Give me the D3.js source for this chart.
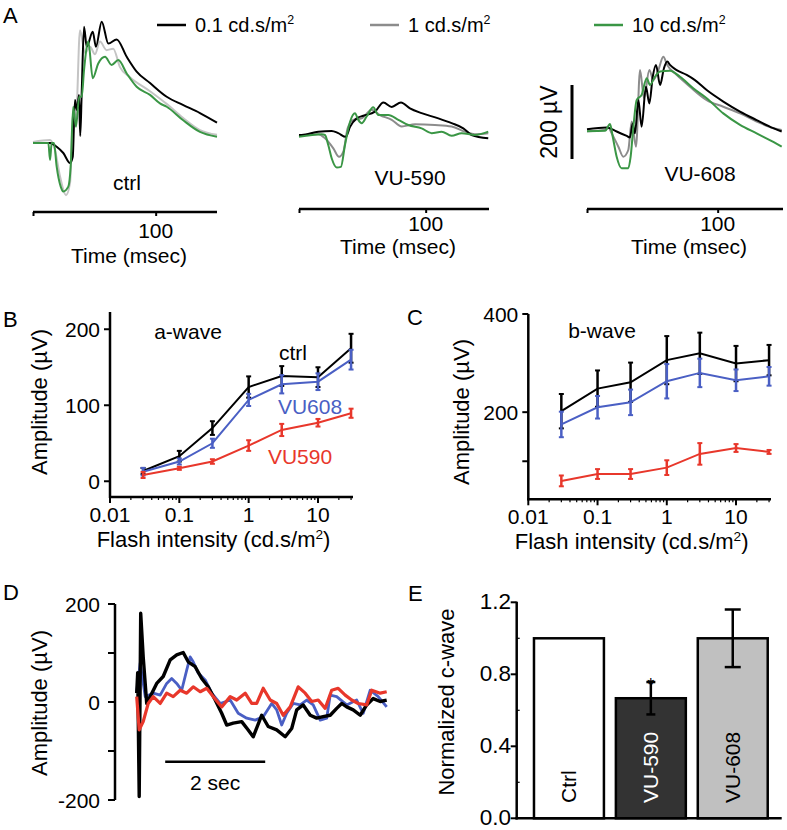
<!DOCTYPE html>
<html><head><meta charset="utf-8">
<script src="https://cdn.jsdelivr.net/npm/d3@7"></script>
<style>
body{margin:0;background:#fff}
svg{display:block}
text{font-family:"Liberation Sans",Arial,Helvetica,sans-serif;fill:#000}
</style>
</head><body>
<svg id="c" width="787" height="830"></svg>
<script>
// ---------------- DATA ----------------
// Panel A: ERG traces, [time ms, amplitude µV]
const legendIntensities = ["0.1", "1", "10"];
const panelANames = ["ctrl", "VU-590", "VU-608"];
const ctrl_01 = [[0,0],[13.9,0],[19.3,-10],[24.7,-27],[30.2,-54],[32.4,-37],[34.2,116],[35.9,89],[37.5,130],[38.5,19],[39.7,135],[41.6,314],[43.8,260],[48.7,301],[51.3,260],[56,328],[61.4,269],[68.2,280],[76.4,233],[84.5,193],[95.4,162],[109,125],[122.2,103],[136.1,81],[150,55]];
const ctrl_1 = [[0,3],[13.9,8],[17.9,-19],[22,-90],[26.9,-141],[30.2,-108],[32.8,89],[35,62],[38.3,305],[42.4,243],[46.5,260],[50.5,240],[54.6,274],[60,251],[65.4,255],[70.9,205],[79,178],[95.4,140],[109.2,105],[122.2,68],[136.1,35],[150,22]];
const ctrl_10 = [[0,0],[12.5,0],[13.9,-46],[15.2,0],[17.1,0],[19.3,-64],[22.6,-118],[24.7,-131],[28.8,-118],[30.7,-64],[32.8,98],[35,44],[37.7,125],[39.7,125],[41.6,197],[45.1,274],[48.7,175],[53.2,215],[58.7,233],[64.1,211],[69.5,224],[76.4,188],[84.5,152],[95.4,130],[103.5,107],[109,98],[122.2,62],[136.1,30],[150,17]];
const vu590_01 = [[0,0],[2.1,0],[15.2,9],[25.8,11],[31,5],[36.9,-5],[40.3,22],[45.5,45],[50.8,52],[60,63],[66.6,88],[73.2,76],[80.5,88],[87.6,72],[96.8,59],[110,45],[120.5,32],[129.7,18],[136.3,0],[149.4,-9]];
const vu590_1 = [[0,-2],[15.2,2],[20.5,-9],[27.1,-36],[31.6,-59],[35,-45],[38.4,18],[42.9,41],[49.5,45],[57.4,68],[63.9,54],[73.2,41],[81.1,23],[91.6,29],[107.3,27],[120.5,23],[131,9],[138.9,2],[149.4,5]];
const vu590_10 = [[0,-5],[17.9,2],[20.5,0],[23.1,-27],[25.8,-63],[29.8,-88],[33.1,-86],[36.3,-27],[40.3,36],[44.2,59],[46.8,41],[49.5,32],[53.4,50],[58.6,75],[62.6,54],[70.5,54],[78.4,41],[86.3,27],[96.8,18],[104.7,5],[112.6,9],[120.5,-2],[128.4,5],[138.9,0],[149.4,9]];
const vu608_01 = [[0,0],[15.1,5],[22.7,-6],[30.4,-18],[32.9,-22],[35,16],[36.7,-11],[39.3,79],[41.8,7],[45.1,115],[47.7,70],[50.3,142],[52.8,174],[55.9,120],[58.9,165],[61.4,183],[63.5,174],[68.6,160],[76.3,147],[82.6,133],[91.6,106],[104.3,75],[117.1,48],[129.8,25],[142.6,3],[149,-6]];
const vu608_1 = [[0,-5],[13.8,-2],[16.3,5],[18.9,-11],[24,-47],[27.8,-74],[31.6,-56],[34.2,21],[37.5,-47],[40.6,160],[43.6,84],[47.7,160],[50.8,133],[54.6,160],[58.4,196],[61.4,174],[68.6,147],[78.8,115],[91.6,79],[104.3,61],[117.1,43],[129.8,21],[142.6,3],[149,-2]];
const vu608_10 = [[0,-5],[13.8,-4],[17.6,14],[19.7,-20],[22.7,-74],[26.5,-105],[31.6,-105],[33.4,-74],[35.5,7],[38,79],[41.8,93],[45.7,138],[48.2,120],[52,142],[55.9,156],[63.5,158],[71.2,142],[81.3,111],[91.6,84],[104.3,43],[117.1,12],[129.8,-11],[142.6,-34],[149,-47]];
const timeTicksA = [100];

// Panels B, C: intensity-response
const intensities = [0.03, 0.1, 0.3, 1, 3, 10, 30];
const logTickLabels = ["0.01", "0.1", "1", "10"];
const aCtrl = [13.5, 33, 70, 124, 138.5, 137, 175];
const aCtrlErr = [4, 7, 9, 14, 13, 13, 19];
const aVU608 = [12.6, 26, 50, 107, 127.6, 131, 160];
const aVU608Err = [5, 4, 6, 8, 12, 11, 13];
const aVU590 = [8.3, 17, 26, 47, 67.5, 77, 89.5];
const aVU590Err = [4, 2, 3, 7, 8, 5, 6];
const bCtrl = [202, 248, 261, 306, 320, 299, 306];
const bCtrlErr = [35, 37, 40, 49, 42, 36, 31];
const bVU608 = [175, 210, 220, 263, 280, 265, 273];
const bVU608Err = [26, 23, 26, 35, 29, 22, 19];
const bVU590 = [60, 74, 74, 87, 115, 127, 119];
const bVU590Err = [11, 10, 10, 15, 22, 8, 4];
const aTicks = [0, 100, 200];
const bTicks = [100, 200, 400];
const bTickLabels = ["", "200", "400"];

// Panel D: c-wave traces, [time s, amplitude µV]
const cCtrl = [[0,18],[0.02,60],[0.05,-193],[0.08,181],[0.13,92],[0.2,-3],[0.27,11],[0.4,38],[0.53,52],[0.67,86],[0.8,96],[0.93,101],[1.03,82],[1.17,72],[1.3,48],[1.43,31],[1.57,4],[1.7,-23],[1.8,-47],[1.93,-43],[2.1,-40],[2.23,-57],[2.33,-71],[2.5,-27],[2.63,-50],[2.8,-57],[2.97,-71],[3.1,-54],[3.2,-16],[3.33,-6],[3.47,-27],[3.6,-33],[3.73,-30],[3.87,-27],[4,-13],[4.1,-3],[4.2,-10],[4.33,-16],[4.47,-27],[4.6,-6],[4.73,7],[4.87,1],[5,4]];
const cVU608 = [[0,21],[0.07,80],[0.17,11],[0.33,18],[0.47,14],[0.6,38],[0.7,48],[0.8,38],[0.9,24],[1,65],[1.07,92],[1.13,82],[1.23,59],[1.37,45],[1.5,18],[1.67,-3],[1.87,4],[2.03,-23],[2.2,-33],[2.37,-37],[2.53,-30],[2.7,-3],[2.8,-16],[2.9,-47],[3,-23],[3.13,-3],[3.27,-6],[3.4,4],[3.53,-6],[3.67,-37],[3.8,-33],[3.87,14],[4,11],[4.2,-6],[4.4,4],[4.53,-23],[4.67,24],[4.83,11],[5,-10]];
const cVU590 = [[0,11],[0.05,-57],[0.13,-40],[0.23,-3],[0.33,11],[0.47,-3],[0.6,18],[0.73,11],[0.87,24],[1,18],[1.13,31],[1.27,21],[1.4,28],[1.53,11],[1.7,-10],[1.87,11],[2,4],[2.17,18],[2.3,-3],[2.4,-3],[2.53,28],[2.67,4],[2.8,-3],[2.93,-27],[3.07,-10],[3.23,31],[3.37,18],[3.5,1],[3.63,4],[3.77,-13],[3.9,24],[4.03,28],[4.17,14],[4.3,4],[4.43,-3],[4.6,-6],[4.7,24],[4.87,18],[5,21]];
const dTicks = [-200, -100, 0, 100, 200];
const dTickLabels = ["-200", "", "0", "", "200"];

// Panel E: normalized c-wave
const eCategories = ["Ctrl", "VU-590", "VU-608"];
const eValues = [1.0, 0.667, 1.0];
const eErrors = [0, 0.09, 0.16];
const eTicks = ["0.0", "0.4", "0.8", "1.2"];

// ---------------- DRAW ----------------
const svg = d3.select("#c");
const BLACK = "#000", BLUE = "#4a5fc4", RED = "#e8372b", GREEN = "#3a9645";

function text(x, y, s, size, opts = {}) {
  const t = svg.append("text").attr("x", x).attr("y", y).attr("font-size", size)
    .attr("text-anchor", opts.anchor || "start").text(s);
  if (opts.fill) t.style("fill", opts.fill);
  if (opts.rotate) t.attr("transform", `rotate(-90,${x},${y})`);
  if (opts.db) t.attr("dominant-baseline", opts.db);
  return t;
}
function unitText(x, y, prefix, size, opts = {}) {
  const t = text(x, y, prefix, size, opts);
  t.append("tspan").attr("dy", -size * 0.38).attr("font-size", size * 0.62).text("2");
  t.append("tspan").attr("dy", size * 0.38).text(opts.suffix || "");
  return t;
}
function line(x1, y1, x2, y2, w, c = BLACK) {
  svg.append("line").attr("x1", x1).attr("y1", y1).attr("x2", x2).attr("y2", y2)
    .attr("stroke", c).attr("stroke-width", w);
}

// Panel letters
text(3, 23, "A", 22);
text(3, 327, "B", 22);
text(407, 325, "C", 22);
text(3, 600, "D", 22);
text(408, 601, "E", 22);

// ---- Panel A ----
const legendColors = [BLACK, "#8c8c8c", GREEN];
const legendX = [157, 370, 594];
legendIntensities.forEach((s, i) => {
  line(legendX[i], 25, legendX[i] + 29, 25, 2.5, legendColors[i]);
  unitText(legendX[i] + 38, 32, s + " cd.s/m", 20);
});

const aPanels = [
  {name: panelANames[0], traces: [ctrl_1, ctrl_01, ctrl_10], x0: 33, x1: 217, base: 143, axisY: 212, tickY: 238, titleY: 263, nameX: 127, nameY: 190, gray: "#c4c4c4"},
  {name: panelANames[1], traces: [vu590_1, vu590_01, vu590_10], x0: 299, x1: 489, base: 135, axisY: 209, tickY: 231, titleY: 254, nameX: 410, nameY: 185, gray: "#8c8c8c"},
  {name: panelANames[2], traces: [vu608_1, vu608_01, vu608_10], x0: 587, x1: 783, base: 129.3, axisY: 209, tickY: 231, titleY: 254, nameX: 700, nameY: 181, gray: "#8c8c8c"}
];
aPanels.forEach(p => {
  const x = d3.scaleLinear().domain([0, 150]).range([p.x0, p.x1]);
  const y = d3.scaleLinear().domain([-200, 400]).range([p.base + 74, p.base - 148]);
  const gen = d3.line().x(d => x(d[0])).y(d => y(d[1])).curve(d3.curveMonotoneX);
  const cols = [p.gray, BLACK, GREEN];
  p.traces.forEach((tr, i) => {
    svg.append("path").attr("d", gen(tr)).attr("fill", "none")
      .attr("stroke", cols[i]).attr("stroke-width", 2).attr("stroke-linejoin", "round");
  });
  const ax = svg.append("g").attr("transform", `translate(0,${p.axisY})`)
    .call(d3.axisBottom(x).tickValues([0, ...timeTicksA]).tickSize(4).tickFormat(""));
  ax.select(".domain").attr("d", `M${p.x0},0H${p.x1}`).attr("stroke-width", 2.5);
  ax.selectAll(".tick line").attr("stroke-width", 2);
  timeTicksA.forEach(t => text(x(t), p.tickY, String(t), 21, {anchor: "middle"}));
  text(x(75) + 4, p.titleY, "Time (msec)", 21, {anchor: "middle"});
  text(p.nameX, p.nameY, p.name, 21, {anchor: "middle"});
});
line(572, 85, 572, 159, 3);
text(557, 122, "200 µV", 23, {anchor: "middle", rotate: true});

// ---- Panels B & C ----
function logPanel(cfg) {
  const x = d3.scaleLog().domain([0.01, 32]).range([cfg.x0, cfg.x1]);
  const y = d3.scaleLinear().domain(cfg.yDomain).range([cfg.yBottom, cfg.yTop]);
  line(cfg.x0, cfg.yTop, cfg.x0, cfg.yBottom + 1, 2.5);
  line(cfg.x0 - 1, cfg.yBottom, cfg.x1, cfg.yBottom, 2.5);
  cfg.yTicks.forEach((t, i) => {
    line(cfg.x0 - 6, y(t), cfg.x0, y(t), 2);
    if (cfg.yLabels[i]) text(cfg.x0 - 10, y(t), cfg.yLabels[i], 21, {anchor: "end", db: "central"});
  });
  const minors = [];
  [0.01, 0.1, 1, 10].forEach(d => { for (let k = 2; k <= 9; k++) if (d * k <= 32) minors.push(d * k); });
  minors.forEach(m => line(x(m), cfg.yBottom, x(m), cfg.yBottom + 3, 1.2));
  [0.01, 0.1, 1, 10].forEach((m, i) => {
    line(x(m), cfg.yBottom, x(m), cfg.yBottom + 6, 2);
    text(x(m), cfg.yBottom + 25, logTickLabels[i], 21, {anchor: "middle"});
  });
  unitText((cfg.x0 + cfg.x1) / 2 - 18, cfg.yBottom + 50, "Flash intensity (cd.s/m", 22, {anchor: "middle", suffix: ")"});
  text(cfg.yLabelX, cfg.yLabelY, "Amplitude (µV)", 22, {anchor: "middle", rotate: true});
  const gen = d3.line().x((d, i) => x(intensities[i])).y(d => y(d));
  cfg.series.forEach(s => {
    svg.append("path").attr("d", gen(s.v)).attr("fill", "none").attr("stroke", s.c).attr("stroke-width", 2);
    s.v.forEach((v, i) => {
      const cx = x(intensities[i]);
      line(cx, y(v - s.e[i]), cx, y(v + s.e[i]), 2.5, s.c);
      line(cx - 2.5, y(v - s.e[i]), cx + 2.5, y(v - s.e[i]), 2, s.c);
      line(cx - 2.5, y(v + s.e[i]), cx + 2.5, y(v + s.e[i]), 2, s.c);
    });
  });
  return {x, y};
}
logPanel({x0: 110, x1: 353, yTop: 312, yBottom: 497, yDomain: [-20.7, 222.7],
  yTicks: aTicks, yLabels: aTicks.map(String), yLabelX: 47, yLabelY: 402,
  series: [{v: aCtrl, e: aCtrlErr, c: BLACK}, {v: aVU608, e: aVU608Err, c: BLUE}, {v: aVU590, e: aVU590Err, c: RED}]});
text(188, 339, "a-wave", 21, {anchor: "middle"});
text(293, 360, "ctrl", 21, {anchor: "middle"});
text(310, 414, "VU608", 21, {anchor: "middle", fill: BLUE});
text(300, 464, "VU590", 21, {anchor: "middle", fill: RED});

logPanel({x0: 528.3, x1: 771, yTop: 314, yBottom: 499.3, yDomain: [22.5, 400],
  yTicks: bTicks, yLabels: bTickLabels, yLabelX: 469, yLabelY: 412,
  series: [{v: bCtrl, e: bCtrlErr, c: BLACK}, {v: bVU608, e: bVU608Err, c: BLUE}, {v: bVU590, e: bVU590Err, c: RED}]});
text(602, 338, "b-wave", 21, {anchor: "middle"});

// ---- Panel D ----
{
  const x = d3.scaleLinear().domain([0, 5]).range([136.7, 386.7]);
  const y = d3.scaleLinear().domain([-200, 200]).range([800, 604]);
  line(115, 604, 115, 800, 2.5);
  dTicks.forEach((t, i) => {
    line(108, y(t), 115, y(t), 2);
    if (dTickLabels[i]) text(100, y(t), dTickLabels[i], 21, {anchor: "end", db: "central"});
  });
  text(47, 703, "Amplitude (µV)", 22, {anchor: "middle", rotate: true});
  const gen = d3.line().x(d => x(d[0])).y(d => y(d[1]));
  [[cVU608, BLUE, 2.8], [cCtrl, BLACK, 3.4], [cVU590, RED, 3.2]].forEach(([tr, c, w]) => {
    svg.append("path").attr("d", gen(tr)).attr("fill", "none").attr("stroke", c)
      .attr("stroke-width", w).attr("stroke-linejoin", "round");
  });
  line(x(0.57), 761.7, x(2.57), 761.7, 2.5);
  text((x(0.57) + x(2.57)) / 2, 790, "2 sec", 21, {anchor: "middle"});
}

// ---- Panel E ----
{
  const x = d3.scaleBand().domain(eCategories).range([516.7, 785]).paddingInner(0.146).paddingOuter(0.211);
  const y = d3.scaleLinear().domain([0, 1.2]).range([818.3, 602.3]);
  const fills = ["#ffffff", "#333333", "#c0c0c0"];
  const labelFill = ["#000", "#fff", "#000"];
  eCategories.forEach((c, i) => {
    svg.append("rect").attr("x", x(c)).attr("y", y(eValues[i])).attr("width", x.bandwidth())
      .attr("height", y(0) - y(eValues[i])).attr("fill", fills[i]).attr("stroke", BLACK).attr("stroke-width", 2.5);
    const cx = x(c) + x.bandwidth() / 2;
    text(cx, 803, c, 21, {anchor: "start", rotate: true, db: "central", fill: labelFill[i]});
  });
  eCategories.forEach((c, i) => {
    if (!eErrors[i]) return;
    const cx = x(c) + x.bandwidth() / 2;
    const cw = i === 1 ? 4.5 : 8;
    line(cx, y(eValues[i] - eErrors[i]), cx, y(eValues[i] + eErrors[i]), 2.5);
    line(cx - cw, y(eValues[i] - eErrors[i]), cx + cw, y(eValues[i] - eErrors[i]), 2.5);
    line(cx - cw, y(eValues[i] + eErrors[i]), cx + cw, y(eValues[i] + eErrors[i]), 2.5);
  });
  const cx590 = x(eCategories[1]) + x.bandwidth() / 2;
  text(cx590, y(eValues[1] + eErrors[1]) + 9, "*", 18, {anchor: "middle"});
  line(516.7, 601.7, 516.7, 819.5, 2.5);
  line(515.5, 818.3, 781.7, 818.3, 2.5);
  eTicks.forEach(t => {
    line(510.7, y(+t), 516.7, y(+t), 2);
    text(511, y(+t) - 1, t, 22.5, {anchor: "end", db: "central"});
  });
  [0.2, 0.6, 1.0].forEach(t => line(516.7, y(t), 519.7, y(t), 1.2));
  text(454, 702, "Normalized c-wave", 22, {anchor: "middle", rotate: true});
}
</script>
</body></html>
